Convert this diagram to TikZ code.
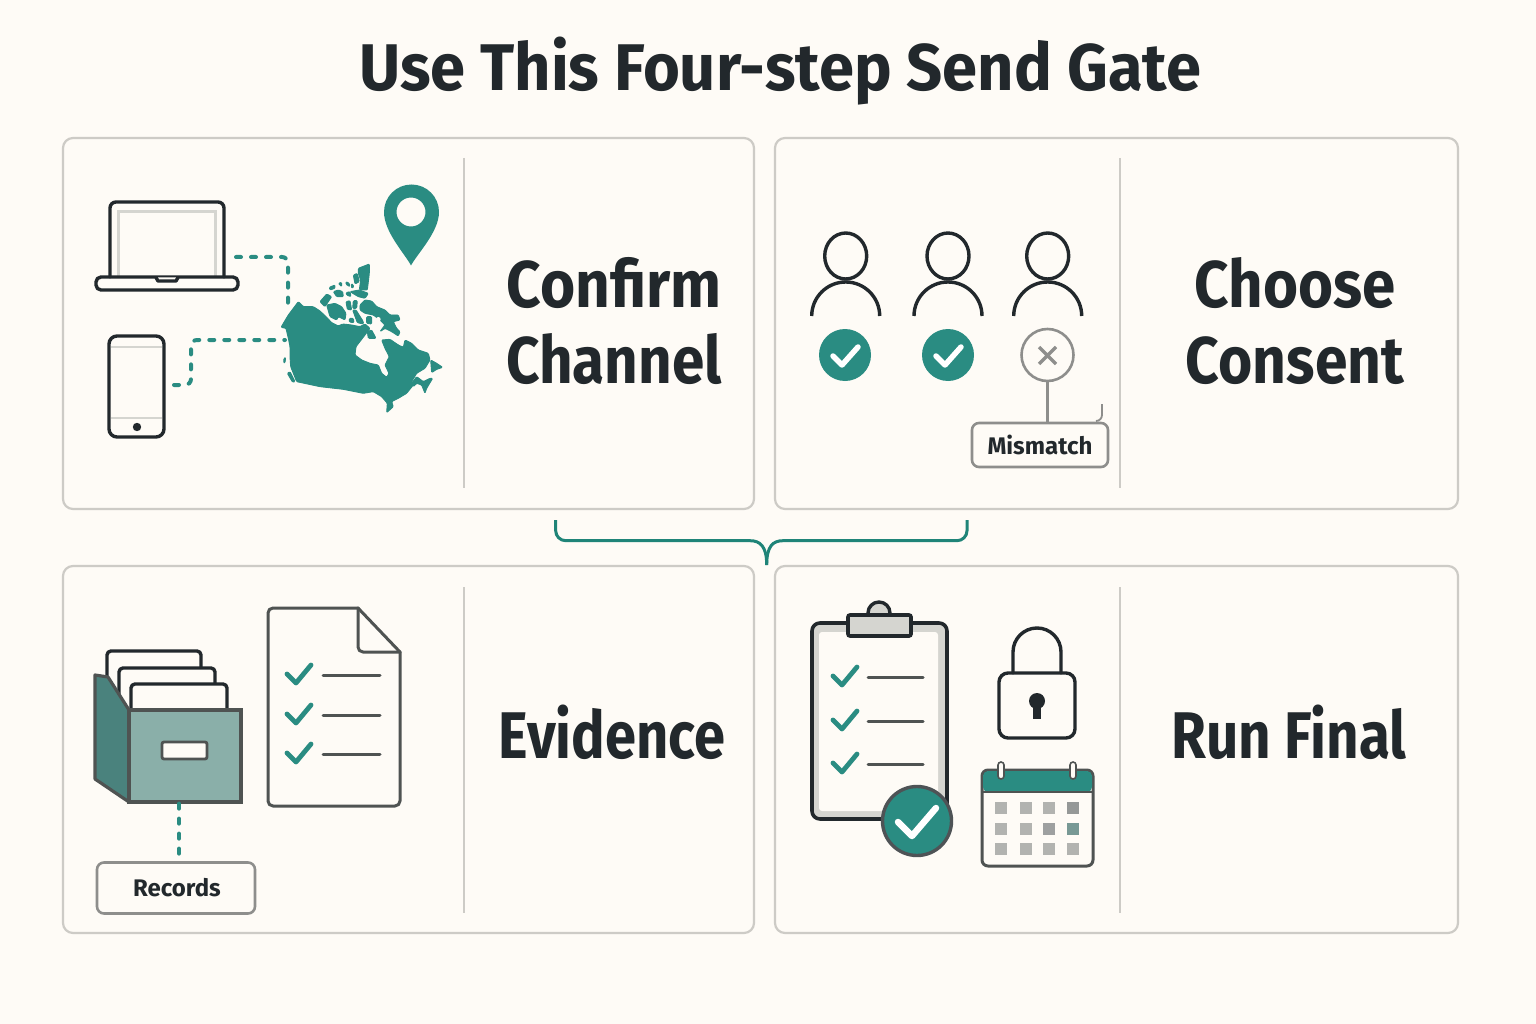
\documentclass[tikz,border=0pt]{standalone}
\usepackage{fontspec}
\usepackage{graphicx}
\setmainfont{Fira Sans}
\definecolor{bgc}{HTML}{FEFBF6}
\definecolor{teal1}{HTML}{2A8C82}
\definecolor{teal2}{HTML}{1F8478}
\definecolor{ink}{HTML}{22282C}
\definecolor{panelc}{HTML}{CDCBC6}
\definecolor{greyc}{HTML}{8E8E8C}
\definecolor{darkg}{HTML}{4F5352}
\definecolor{lightg}{HTML}{D5D5D0}
\definecolor{sq}{HTML}{B2B3B0}
\definecolor{boxf}{HTML}{8AAFA9}
\definecolor{boxs}{HTML}{4A827D}
\tikzset{
 panel/.style={draw=panelc,line width=2.2pt,rounded corners=10pt,inner sep=0pt,fill=bgc},
 divider/.style={draw=panelc,line width=1.8pt},
 head/.style={font=\bfseries\fontsize{66}{76}\selectfont,text=ink,align=center,inner sep=0pt},
 tag/.style={draw=greyc,line width=2.6pt,rounded corners=7pt,fill=bgc,inner sep=0pt,font=\bfseries\fontsize{24}{28}\selectfont,text=ink},
 icon/.style={draw=ink,line width=3.4pt,line join=round,line cap=round},
 thin/.style={draw=darkg,line width=3pt,line join=round,line cap=round},
 dashline/.style={draw=teal1,line width=4pt,line cap=round,dash pattern=on 5pt off 10pt,rounded corners=6pt},
 tick/.style={draw=teal1,line width=4.8pt,line cap=round,line join=round},
 wtick/.style={draw=white,line width=5.5pt,line cap=round,line join=round},
 okdisc/.style={circle,fill=teal1,minimum size=52pt,inner sep=0pt},
 cell/.style={fill=sq,minimum size=11.5pt,inner sep=0pt},
 land/.style={fill=teal1,draw=teal1,line width=0.9pt,line join=round,rounded corners=1pt},
 brace/.style={draw=teal2,line width=3pt},
}
\newcommand{\hs}[2]{\scalebox{#1}[1]{#2}}
\newcommand{\listrow}[5]{%
 \draw[tick] (#1-14,#2-1) -- (#1-5,#2+8) -- (#1+10,#2-10);
 \draw[thin] (#3,#5) -- (#4,#5);}
\begin{document}
\begin{tikzpicture}[x=1pt,y=-1pt]
\useasboundingbox (0,0) rectangle (1536,1024);
\fill[bgc] (0,0) rectangle (1536,1024);
\node[font=\bfseries\fontsize{66}{76}\selectfont,text=ink,inner sep=0pt] (title) at (780,71) {\hs{0.958}{Use This Four-step Send Gate}};
% panels
\node[panel,minimum width=691pt,minimum height=371pt] (p1) at (408.5,323.5) {};
\node[panel,minimum width=683pt,minimum height=371pt] (p2) at (1116.5,323.5) {};
\node[panel,minimum width=691pt,minimum height=367pt] (p3) at (408.5,749.5) {};
\node[panel,minimum width=683pt,minimum height=367pt] (p4) at (1116.5,749.5) {};
\draw[divider] (464,158) -- (464,488);
\draw[divider] (1120,158) -- (1120,488);
\draw[divider] (464,587) -- (464,913);
\draw[divider] (1120,587) -- (1120,913);
\node[head] (t1) at (614,321) {\hs{0.914}{Confirm}\\\hs{0.885}{Channel}};
\node[head] (t2) at (1295,321) {\hs{0.91}{Choose}\\\hs{0.89}{Consent}};
\node[head] (t3) at (612,732) {\hs{0.85}{Evidence}};
\node[head] (t4) at (1289,732) {\hs{0.857}{Run Final}};
% bracket
\coordinate (bl) at (555.7,520);
\coordinate (br) at (967,520);
\coordinate (bt) at (766.7,565);
\draw[brace] (bl) -- (555.7,530.7) arc(180:90:10) -- (750,540.7) .. controls (760,540.7) and (766.7,546) .. (bt);
\draw[brace] (br) -- (967,530.7) arc(0:90:10) -- (783,540.7) .. controls (773,540.7) and (766.7,546) .. (bt);
% laptop
\draw[draw=lightg,line width=3pt] (118,277) -- (118,212) -- (215,212) -- (215,277);
\draw[icon,rounded corners=6pt] (110,277) -- (110,202) -- (224,202) -- (224,277);
\draw[icon,rounded corners=5pt] (96,277) -- (238,277) -- (238,290) -- (96,290) -- cycle;
\draw[icon,fill=bgc] (156,277.5) -- (158,281) -- (176,281) -- (178,277.5);
\coordinate (lap) at (236,257);
% phone
\node[draw=ink,line width=3.4pt,rounded corners=8pt,minimum width=55pt,minimum height=101pt,inner sep=0pt] (phone) at (136.5,386.5) {};
\draw[draw=lightg,line width=2.4pt] (111,347) -- (162,347) (111,418) -- (162,418);
\fill[ink] (137,427) circle (4.2);
\coordinate (ph) at (174,385);
% pin
\fill[teal1,even odd rule] (411,265.5) .. controls (405,254) and (384,232) .. (384,212) arc(180:360:27.5) .. controls (439,232) and (417,254) .. (411,265.5) -- cycle (425.5,212) arc(0:360:14.5);
% canada
\begin{scope}[shift={(270,250)},x=0.3333pt,y=-0.3333pt]
\path[land] (85,155) -- (100,170) -- (130,170) -- (150,183) -- (168,200) -- (185,218) -- (205,228) -- (218,222) -- (245,225) -- (270,230) -- (285,222) -- (300,235) -- (285,255) -- (258,290) -- (255,315) -- (275,330) -- (300,340) -- (325,345) -- (335,370) -- (350,382) -- (357,370) -- (345,345) -- (358,320) -- (345,295) -- (335,270) -- (360,268) -- (385,285) -- (400,292) -- (405,270) -- (425,280) -- (445,300) -- (475,310) -- (480,330) -- (465,355) -- (440,370) -- (425,395) -- (430,405) -- (410,430) -- (385,445) -- (365,455) -- (370,470) -- (350,488) -- (352,460) -- (335,440) -- (310,425) -- (280,430) -- (220,418) -- (150,410) -- (80,395) -- (62,350) -- (60,320) -- (60,290) -- (55,265) -- (48,235) -- (33,232) -- (55,195) -- cycle;
\path[land] (482,330) -- (500,340) -- (518,352) -- (500,358) -- (485,368) -- cycle;
\path[land] (425,400) -- (440,380) -- (460,395) -- (480,385) -- (488,385) -- (470,415) -- (465,430) -- (455,405) -- (440,400) -- (430,410) -- cycle;
\path[land] (52,370) -- (60,365) -- (75,395) -- (68,397) -- cycle;
\path[land] (42,325) -- (47,322) -- (45,338) -- (41,338) -- cycle;
\path[land] (292,245) -- (305,240) -- (318,265) -- (295,265) -- cycle;
\path[land] (270,165) -- (285,150) -- (305,153) -- (320,170) -- (345,180) -- (360,195) -- (385,195) -- (390,210) -- (370,215) -- (380,235) -- (390,245) -- (385,258) -- (365,245) -- (345,235) -- (330,245) -- (345,225) -- (330,210) -- (310,195) -- (285,190) -- (270,180) -- cycle;
\fill[bgc] (325,208) circle (7);
\path[land] (265,55) -- (298,42) -- (298,70) -- (292,120) -- (268,120) -- (272,90) -- (265,70) -- cycle;
\path[land] (250,75) -- (262,70) -- (268,95) -- (255,102) -- cycle;
\path[land] (240,125) -- (268,120) -- (295,130) -- (285,145) -- (265,140) -- cycle;
\path[land] (170,165) -- (195,160) -- (215,170) -- (228,190) -- (225,210) -- (205,200) -- (200,210) -- (180,200) -- cycle;
\path[land] (150,155) -- (170,132) -- (185,140) -- (165,170) -- cycle;
\path[land] (178,112) -- (195,105) -- (195,115) -- (180,120) -- cycle;
\path[land] (190,125) -- (205,120) -- (218,125) -- (220,140) -- (200,140) -- cycle;
\path[land] (205,100) -- (215,97) -- (215,110) -- cycle;
\path[land] (228,95) -- (238,100) -- (240,110) -- (228,103) -- cycle;
\path[land] (245,100) -- (252,110) -- (245,115) -- cycle;
\path[land] (228,128) -- (240,125) -- (243,140) -- (230,135) -- cycle;
\path[land] (250,152) -- (262,152) -- (260,175) -- (248,175) -- cycle;
\path[land] (228,155) -- (240,152) -- (245,180) -- (232,178) -- cycle;
\path[land] (248,180) -- (258,180) -- (280,215) -- (280,222) -- (262,218) -- cycle;
\path[land] (290,200) -- (305,200) -- (305,222) -- (290,220) -- cycle;
\path[land] (238,205) -- (250,205) -- (252,218) -- (238,216) -- cycle;
\end{scope}
\coordinate (ca1) at (288,312);
\coordinate (ca2) at (285,340);
\draw[dashline] (lap) -- (288,257) -- (ca1);
\draw[dashline] (ph) -- (191,385) -- (191,340) -- (ca2);
% people
\foreach \px/\nm in {845.7/a,948/b,1047.7/c}{
 \draw[icon] (\px,256) ellipse (21 and 23);
 \draw[icon,line cap=butt] (\px-34,316) arc(180:360:34);
}
\node[okdisc] (ok1) at (845,355) {};
\node[okdisc] (ok2) at (948,355) {};
\draw[wtick] (833,356) -- (842,365) -- (858,347);
\draw[wtick] (936,356) -- (945,365) -- (961,347);
\node[circle,draw=greyc,line width=2.6pt,fill=bgc,minimum size=52pt,inner sep=0pt] (no) at (1047.5,355) {};
\draw[draw=greyc,line width=3.4pt] (1039,347) -- (1056,364) (1056,347) -- (1039,364);
\node[tag,minimum width=136pt,minimum height=44pt] (mm) at (1040,445) {Mismatch};
\draw[draw=greyc,line width=2.6pt] (no.south) -- (no.south |- mm.north);
\coordinate (hk) at (1102,404);
\draw[draw=greyc,line width=1.8pt] (hk) -- (1102,415) arc(0:90:6);
% archive
\foreach \xa/\xb/\yy in {107/201/651,119/215/668,131/227/684}
 \draw[icon,draw=ink,fill=bgc,rounded corners=4pt] (\xa,715) -- (\xa,\yy) -- (\xb,\yy) -- (\xb,715);
\draw[draw=darkg,line width=3.2pt,line join=round,fill=boxs] (95,675) -- (108,677) -- (129,710) -- (129,802) -- (95,779) -- cycle;
\node[draw=darkg,line width=3.2pt,fill=boxf,minimum width=112pt,minimum height=92pt,inner sep=0pt] (box) at (185,756) {};
\node[draw=darkg,line width=2.8pt,fill=bgc,rounded corners=2pt,minimum width=45pt,minimum height=17pt,inner sep=0pt] (hdl) at (184.5,750.5) {};
\node[tag,minimum width=158pt,minimum height=51pt] (rec) at (176,888) {\kern2pt Records};
\draw[dashline] (box.south -| 179,0) -- (rec.north -| 179,0);
% doc
\draw[thin,rounded corners=5pt] (358,608) -- (268,608) -- (268,806) -- (400,806) -- (400,652);
\draw[thin] (358,608) -- (400,652);
\draw[thin,rounded corners=5pt] (358,608) -- (358,652) -- (400,652);
\listrow{301}{675}{323}{380}{675}
\listrow{301}{715}{323}{380}{715}
\listrow{301}{754}{323}{380}{754}
% clipboard
\node[draw=ink,line width=3.6pt,fill=lightg,rounded corners=8pt,minimum width=135pt,minimum height=196pt,inner sep=0pt] (clip) at (879.5,721) {};
\node[fill=bgc,rounded corners=3pt,minimum width=119pt,minimum height=179pt,inner sep=0pt] (sheet) at (878.5,721.5) {};
\draw[icon,fill=lightg] (868,615) -- (868,613) arc(180:360:11) -- (890,615);
\node[draw=ink,line width=3.6pt,fill=lightg,rounded corners=2pt,minimum width=63pt,minimum height=21pt,inner sep=0pt] (clp) at (879.5,625.5) {};
\listrow{847}{677}{868}{923}{677}
\listrow{847}{721}{868}{923}{721}
\listrow{847}{764}{868}{923}{764}
\node[circle,draw=ink!80,line width=3.4pt,fill=teal1,minimum size=69pt,inner sep=0pt] (big) at (917,821) {};
\draw[wtick,line width=6.5pt] (898,822) -- (912,836) -- (936,808);
% lock
\draw[icon] (1013,673) -- (1013,652) arc(180:360:24) -- (1061,673);
\node[draw=ink,line width=3.4pt,rounded corners=9pt,minimum width=76pt,minimum height=65pt,inner sep=0pt] (lock) at (1037,705.5) {};
\fill[ink] (1037,701) circle (8);
\fill[ink] (1033,703) -- (1041,703) -- (1041,719) -- (1033,719) -- cycle;
% calendar
\node[draw=darkg,line width=3pt,rounded corners=6pt,minimum width=111pt,minimum height=96pt,inner sep=0pt] (cal) at (1037.5,818) {};
\fill[teal1,rounded corners=5pt] (983,792) -- (983,771) -- (1092,771) -- (1092,792) -- cycle;
\draw[draw=darkg,line width=2.4pt] (982,792) -- (1093,792);
\foreach \rx in {1001,1073}
 \draw[draw=darkg,line width=1.6pt,fill=bgc,rounded corners=3pt] (\rx-3,762) rectangle (\rx+3,779);
\foreach \cx in {1001,1026,1049,1073}
 \foreach \cy in {808,829,849}
  \node[cell] at (\cx,\cy) {};
\node[cell,fill=darkg!60] (c1) at (1073,808) {};
\node[cell,fill=darkg!55] (c2) at (1049,829) {};
\node[cell,fill=teal1!45!darkg!70] (c3) at (1073,829) {};
\end{tikzpicture}
\end{document}
